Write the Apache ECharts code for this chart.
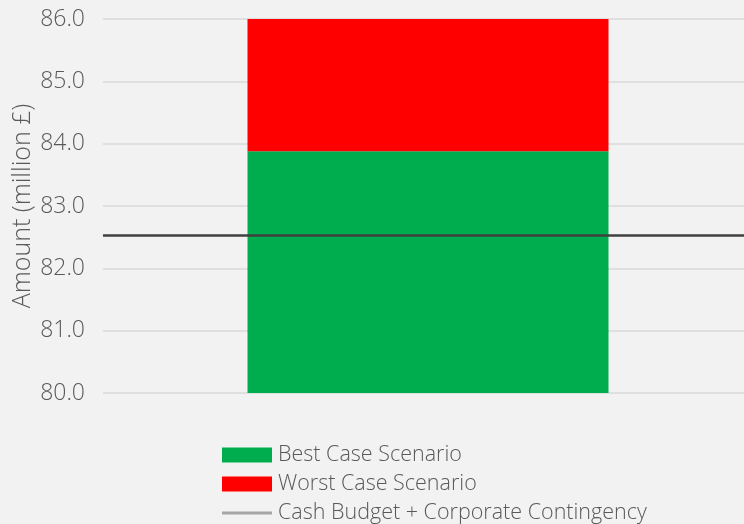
<!DOCTYPE html>
<html lang="en">
<head>
    <meta charset="UTF-8">
    <title>Scenarios</title>
    <script src="https://cdn.jsdelivr.net/npm/echarts@6/dist/echarts.min.js"></script>
    <style>
        html, body { margin: 0; padding: 0; background: #f2f2f2; }
        #main { width: 744px; height: 524px; }
    </style>
</head>
<body>
<div id="main"></div>
<script>
    var categories = ['Scenario'];
    var bestCase = [83.88];
    var worstCase = [86.0];
    var cashBudget = 82.53;
    var yTicks = [80, 81, 82, 83, 84, 85, 86];

    // red part sits on top of the green part
    var worstExtra = worstCase.map(function (v, i) { return +(v - bestCase[i]).toFixed(2); });

    var myChart = echarts.init(document.getElementById('main'));
    var font = 'Open Sans';
    var option = {
        backgroundColor: '#f2f2f2',
        animation: false,
        textStyle: { fontFamily: font },
        grid: { left: 103, right: -9, top: 19, bottom: 131, outerBoundsMode: 'none' },
        legend: {
            orient: 'vertical',
            left: 222,
            top: 444,
            padding: 0,
            height: 90,
            itemWidth: 50,
            itemHeight: 15,
            itemGap: 7,
            textStyle: { fontFamily: font, fontWeight: 300, fontSize: 21.5, color: '#595959', padding: [0, 0, 0, 1] },
            data: [
                { name: 'Best Case Scenario', icon: 'rect' },
                { name: 'Worst Case Scenario', icon: 'rect' },
                { name: 'Cash Budget + Corporate Contingency', icon: 'path://M0,6 L50,6 L50,9 L0,9 Z',
                  itemStyle: { color: '#a6a6a6' } }
            ]
        },
        xAxis: {
            type: 'category',
            data: categories,
            axisLine: { show: false },
            axisTick: { show: false },
            axisLabel: { show: false }
        },
        yAxis: {
            type: 'value',
            min: yTicks[0],
            max: yTicks[yTicks.length - 1],
            interval: 1,
            name: 'Amount (million £)',
            nameLocation: 'middle',
            nameMoveOverlap: false,
            nameGap: 68,
            nameTextStyle: { fontFamily: font, fontWeight: 300, fontSize: 25, color: '#595959' },
            axisLabel: {
                fontFamily: font,
                fontWeight: 300,
                fontSize: 23,
                color: '#595959',
                margin: 18,
                formatter: function (v) { return v.toFixed(1); }
            },
            splitLine: { lineStyle: { color: '#d9d9d9', width: 1.5 } }
        },
        series: [
            {
                name: 'Best Case Scenario',
                type: 'bar',
                stack: 's',
                barWidth: 361,
                itemStyle: { color: '#00ad4e' },
                data: bestCase
            },
            {
                name: 'Worst Case Scenario',
                type: 'bar',
                stack: 's',
                itemStyle: { color: '#ff0000' },
                data: worstExtra
            },
            {
                name: 'Cash Budget + Corporate Contingency',
                type: 'line',
                showSymbol: false,
                itemStyle: { color: '#a6a6a6' },
                lineStyle: { color: '#404040', width: 2.5 },
                data: [cashBudget],
                markLine: {
                    silent: true,
                    symbol: 'none',
                    label: { show: false },
                    lineStyle: { color: '#404040', width: 2.5, type: 'solid' },
                    data: [{ yAxis: cashBudget }]
                }
            }
        ]
    };
    myChart.setOption(option);
</script>
</body>
</html>
